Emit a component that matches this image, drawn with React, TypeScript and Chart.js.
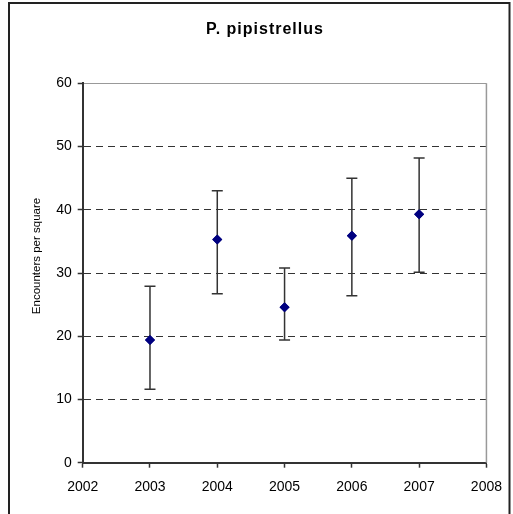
import React, { useEffect, useRef } from "react";
import { Chart, registerables } from "chart.js";

Chart.register(...registerables);

const years = [2003, 2004, 2005, 2006, 2007];
const means = [19.4, 35.3, 24.6, 35.9, 39.3];
const upper = [27.9, 43.0, 30.8, 45.0, 48.2];
const lower = [11.6, 26.7, 19.4, 26.4, 30.1];
const xTicks = [2002, 2003, 2004, 2005, 2006, 2007, 2008];
const yTicks = [0, 10, 20, 30, 40, 50, 60];
const titleText = "P. pipistrellus";
const yTitle = "Encounters per square";

const decorPlugin = {
  id: "decor",
  beforeDraw(chart: any) {
    const ctx = chart.ctx;
    ctx.save();
    ctx.fillStyle = "#fff";
    ctx.fillRect(0, 0, chart.width, chart.height);
    ctx.strokeStyle = "#222";
    ctx.lineWidth = 2;
    ctx.strokeRect(9, 3, 500.5, 600);
    ctx.fillStyle = "#000";
    ctx.font = "bold 16px Arial, 'Liberation Sans', sans-serif";
    try {
      (ctx as any).letterSpacing = "1px";
    } catch (e) {}
    ctx.textAlign = "center";
    ctx.textBaseline = "middle";
    ctx.fillText(titleText, 265, 30);
    try {
      (ctx as any).letterSpacing = "0px";
    } catch (e) {}
    // y axis title
    ctx.font = "11.5px Arial, 'Liberation Sans', sans-serif";
    ctx.translate(36.5, 256);
    ctx.rotate(-Math.PI / 2);
    ctx.fillText(yTitle, 0, 0);
    ctx.restore();
  },
  afterDatasetsDraw(chart: any) {
    const ctx = chart.ctx;
    const xs = chart.scales.x;
    const ys = chart.scales.y;
    const area = chart.chartArea;
    ctx.save();
    ctx.strokeStyle = "#999";
    ctx.lineWidth = 1.5;
    ctx.beginPath();
    ctx.moveTo(area.right, area.top);
    ctx.lineTo(area.right, area.bottom);
    ctx.stroke();
    ctx.strokeStyle = "#333";
    ctx.lineWidth = 1.5;
    years.forEach((yr, i) => {
      const x = xs.getPixelForValue(yr);
      const yt = ys.getPixelForValue(upper[i]);
      const yb = ys.getPixelForValue(lower[i]);
      ctx.beginPath();
      ctx.moveTo(x, yt);
      ctx.lineTo(x, yb);
      ctx.moveTo(x - 5.5, yt);
      ctx.lineTo(x + 5.5, yt);
      ctx.moveTo(x - 5.5, yb);
      ctx.lineTo(x + 5.5, yb);
      ctx.stroke();
    });
    const meta = chart.getDatasetMeta(0);
    meta.data.forEach((p: any) => p.draw(ctx, area));
    ctx.restore();
  },
};

export default function App() {
  const ref = useRef<HTMLCanvasElement>(null);
  useEffect(() => {
    if (!ref.current) return;
    const chart = new Chart(ref.current, {
      type: "scatter",
      data: {
        datasets: [
          {
            data: years.map((y, i) => ({ x: y, y: means[i] })),
            backgroundColor: "#000080",
            borderColor: "#000080",
            pointStyle: "rectRot",
            pointRadius: 5,
            pointBorderWidth: 0,
          },
        ],
      },
      plugins: [decorPlugin],
      options: {
        responsive: false,
        animation: false,
        layout: { padding: { top: 83.3, left: 0, right: 25.3, bottom: 0 } },
        plugins: {
          legend: { display: false },
          tooltip: { enabled: false },
          title: { display: false },
        },
        scales: {
          x: {
            type: "linear",
            min: xTicks[0],
            max: xTicks[xTicks.length - 1],
            afterBuildTicks: (s: any) => {
              s.ticks = xTicks.map((v) => ({ value: v }));
            },
            afterFit: (s: any) => {
              s.height = 51.3;
            },
            ticks: {
              callback: (v: any) => String(v),
              color: "#000",
              font: { family: "Arial, 'Liberation Sans', sans-serif", size: 14 },
              padding: 11,
              maxRotation: 0,
            },
            grid: {
              drawOnChartArea: false,
              drawTicks: true,
              tickLength: 5,
              tickColor: "#333",
              tickWidth: 1.5,
            },
            border: { color: "#333", width: 2 },
          },
          y: {
            min: yTicks[0],
            max: yTicks[yTicks.length - 1],
            afterBuildTicks: (s: any) => {
              s.ticks = yTicks.map((v) => ({ value: v }));
            },
            afterFit: (s: any) => {
              s.width = 82.7;
            },
            ticks: {
              color: "#000",
              font: { family: "Arial, 'Liberation Sans', sans-serif", size: 14 },
              padding: 6,
            },
            grid: {
              color: (c: any) => {
                const v = c.tick ? c.tick.value : -1;
                if (v === 0) return "rgba(0,0,0,0)";
                if (v === 60) return "#999";
                return "#333";
              },
              lineWidth: 1,
              drawTicks: true,
              tickLength: 5,
              tickColor: "#333",
              tickWidth: 1.5,
              tickBorderDash: [],
            },
            border: {
              color: "#333",
              width: 2,
              dash: (c: any) => {
                const v = c.tick ? c.tick.value : 0;
                if (v === 0 || v === 60) return [];
                return [7, 5];
              },
            },
          },
        },
      },
    } as any);
    return () => chart.destroy();
  }, []);
  return (
    <div style={{ position: "fixed", left: 0, top: 0, width: 513, height: 514 }}>
      <canvas ref={ref} width={513} height={514} style={{ display: "block" }} />
    </div>
  );
}
